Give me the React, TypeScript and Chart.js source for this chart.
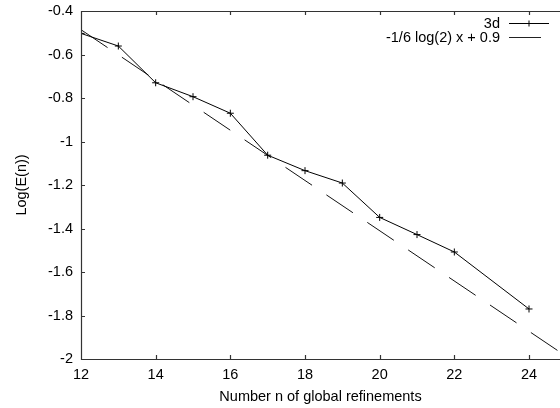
import React, { useEffect, useRef } from "react";
import { Chart, registerables } from "chart.js";

Chart.register(...registerables);

// ---- data ----
const refinements = [12, 13, 14, 15, 16, 17, 18, 19, 20, 21, 22, 24];
const logErrors = [-0.503, -0.561, -0.73, -0.794, -0.87, -1.063, -1.134, -1.191, -1.349, -1.428, -1.508, -1.77];
const fitX = [12, 25];
const fitY = [-0.486, -1.988];
const xTickValues = [12, 14, 16, 18, 20, 22, 24];
const yTickValues = [-2, -1.8, -1.6, -1.4, -1.2, -1, -0.8, -0.6, -0.4];
const seriesNames = ["3d", "-1/6 log(2) x + 0.9"];
const xTitle = "Number n of global refinements";
const yTitle = "Log(E(n))";

const FONT_FAMILY = "'Liberation Sans', Arial, Helvetica, sans-serif";
const FONT_SIZE = 14.5;
const DASH = [32, 17.3];

const framePlugin = {
  id: "gnuFrame",
  afterDatasetsDraw(chart: any) {
    const { ctx, chartArea, scales } = chart;
    const { left, top, right, bottom } = chartArea;
    ctx.save();
    ctx.strokeStyle = "#333";
    ctx.lineWidth = 1.2;
    ctx.beginPath();
    ctx.moveTo(left + 0.5, top + 0.5);
    ctx.lineTo(right + 2, top + 0.5);
    ctx.moveTo(left + 0.5, top + 0.5);
    ctx.lineTo(left + 0.5, bottom + 0.5);
    ctx.lineTo(right + 2, bottom + 0.5);
    const tl = 4;
    scales.x.ticks.forEach((t: any) => {
      const px = Math.round(scales.x.getPixelForValue(t.value)) + 0.5;
      ctx.moveTo(px, bottom);
      ctx.lineTo(px, bottom - tl);
      ctx.moveTo(px, top);
      ctx.lineTo(px, top + tl);
    });
    scales.y.ticks.forEach((t: any) => {
      const py = Math.round(scales.y.getPixelForValue(t.value)) + 0.5;
      ctx.moveTo(left, py);
      ctx.lineTo(left + tl, py);
    });
    ctx.stroke();

    // legend (gnuplot style, top-right, inside plot)
    ctx.font = `${FONT_SIZE}px ${FONT_FAMILY}`;
    ctx.fillStyle = "#000";
    ctx.textAlign = "right";
    ctx.textBaseline = "middle";
    const textRight = 500;
    const rows = [23.5, 37.5];
    ctx.fillText(seriesNames[0], textRight, rows[0]);
    ctx.fillText(seriesNames[1], textRight, rows[1]);
    ctx.strokeStyle = "#000";
    ctx.lineWidth = 1;
    ctx.beginPath();
    ctx.moveTo(509, rows[0]);
    ctx.lineTo(549, rows[0]);
    ctx.moveTo(529, rows[0] - 3);
    ctx.lineTo(529, rows[0] + 3);
    ctx.stroke();
    ctx.beginPath();
    ctx.strokeStyle = "#222";
    ctx.moveTo(509, rows[1]);
    ctx.lineTo(541, rows[1]);
    ctx.stroke();
    ctx.restore();
  },
};

export default function App() {
  const canvasRef = useRef<HTMLCanvasElement | null>(null);

  useEffect(() => {
    const canvas = canvasRef.current;
    if (!canvas) return;
    const font = { family: FONT_FAMILY, size: FONT_SIZE };
    const chart = new Chart(canvas, {
      type: "line",
      data: {
        datasets: [
          {
            label: seriesNames[0],
            data: refinements.map((x, i) => ({ x, y: logErrors[i] })),
            borderColor: "#000",
            backgroundColor: "#000",
            borderWidth: 1,
            pointStyle: "cross",
            pointRadius: 3.5,
            pointBorderWidth: 1,
            pointBorderColor: "#000",
            tension: 0,
            fill: false,
          },
          {
            label: seriesNames[1],
            data: fitX.map((x, i) => ({ x, y: fitY[i] })),
            borderColor: "#111",
            borderWidth: 1,
            borderDash: DASH,
            pointRadius: 0,
            tension: 0,
            fill: false,
          },
        ],
      },
      options: {
        animation: false,
        responsive: true,
        maintainAspectRatio: false,
        layout: { autoPadding: false, padding: { top: 11, left: 0, right: 0, bottom: 0 } },
        plugins: {
          legend: { display: false },
          tooltip: { enabled: false },
        },
        scales: {
          x: {
            type: "linear",
            min: 12,
            max: 24.83,
            afterBuildTicks: (s: any) => {
              s.ticks = xTickValues.map((v) => ({ value: v }));
            },
            afterFit: (s: any) => {
              s.height = 49;
              s.paddingLeft = 0;
              s.paddingRight = 0;
            },
            grid: { display: false, drawTicks: false },
            border: { display: false },
            ticks: {
              color: "#000",
              font,
              padding: 7,
              maxRotation: 0,
              autoSkip: false,
              callback: (v: any) => String(v),
            },
            title: {
              display: true,
              text: xTitle,
              color: "#000",
              font,
              padding: { top: 0, bottom: 2 },
            },
          },
          y: {
            type: "linear",
            min: -2,
            max: -0.4,
            afterBuildTicks: (s: any) => {
              s.ticks = yTickValues.map((v) => ({ value: v }));
            },
            afterFit: (s: any) => {
              s.width = 81;
              s.paddingTop = 0;
              s.paddingBottom = 0;
            },
            grid: { display: false, drawTicks: false },
            border: { display: false },
            ticks: {
              color: "#000",
              font,
              padding: 8,
              autoSkip: false,
              callback: (v: any) => String(parseFloat(Number(v).toFixed(1))),
            },
            title: {
              display: true,
              text: yTitle,
              color: "#000",
              font,
              padding: { top: 13, bottom: 0 },
            },
          },
        },
      },
      plugins: [framePlugin],
    });
    return () => chart.destroy();
  }, []);

  return (
    <div style={{ position: "fixed", left: 0, top: 0, width: 560, height: 408, background: "#fff" }}>
      <canvas ref={canvasRef} />
    </div>
  );
}
